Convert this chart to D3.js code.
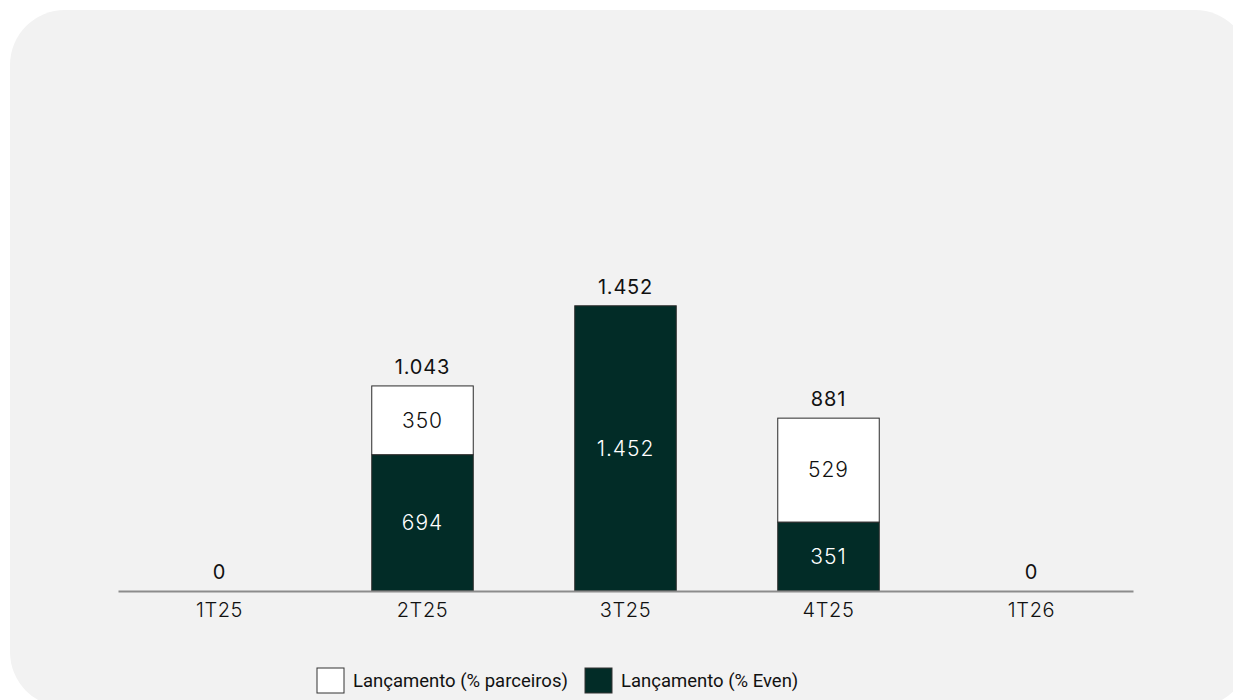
<!DOCTYPE html>
<html>
<head>
<meta charset="utf-8">
<script src="https://cdn.jsdelivr.net/npm/d3@7"></script>
<style>
  body { margin: 0; background: #fff; }
  svg { display: block; }
</style>
</head>
<body>
<svg id="chart" width="1233" height="700"></svg>
<script>
'use strict';

var categories = ['1T25', '2T25', '3T25', '4T25', '1T26'];
var even = [0, 694, 1452, 351, 0];
var parceiros = [0, 350, 0, 529, 0];
var totals = ['0', '1.043', '1.452', '881', '0'];
var evenLabels = ['', '694', '1.452', '351', ''];
var parceirosLabels = ['', '350', '', '529', ''];
var legendLabels = ['Lançamento (% parceiros)', 'Lançamento (% Even)'];

var colDark = '#022c27';
var font = 'Inter, "Open Sans", sans-serif';

var svg = d3.select('#chart');

// panel background
svg.append('rect')
  .attr('x', 10).attr('y', 10)
  .attr('width', 1240).attr('height', 697)
  .attr('rx', 55).attr('ry', 55)
  .attr('fill', '#f2f2f2');

var x = d3.scaleBand()
  .domain(categories)
  .range([118, 1133])
  .paddingInner(0.5)
  .paddingOuter(0.25);

var y = d3.scaleLinear()
  .domain([0, 2800])
  .range([591, 41]);

var data = categories.map(function (c, i) {
  return { cat: c, even: even[i], parc: parceiros[i], total: totals[i],
    evenLabel: evenLabels[i], parcLabel: parceirosLabels[i] };
});

var g = svg.append('g');

// dark segment (Even)
g.selectAll('.bar-even')
  .data(data.filter(function (d) { return d.even > 0; }))
  .enter().append('rect')
  .attr('class', 'bar-even')
  .attr('x', function (d) { return x(d.cat); })
  .attr('width', x.bandwidth())
  .attr('y', function (d) { return y(d.even); })
  .attr('height', function (d) { return y(0) - y(d.even); })
  .attr('fill', colDark)
  .attr('stroke', '#2a2a2a')
  .attr('stroke-width', 1);

// white segment (parceiros)
g.selectAll('.bar-parc')
  .data(data.filter(function (d) { return d.parc > 0; }))
  .enter().append('rect')
  .attr('class', 'bar-parc')
  .attr('x', function (d) { return x(d.cat); })
  .attr('width', x.bandwidth())
  .attr('y', function (d) { return y(d.even + d.parc); })
  .attr('height', function (d) { return y(d.even) - y(d.even + d.parc); })
  .attr('fill', '#fff')
  .attr('stroke', '#2a2a2a')
  .attr('stroke-width', 1);

// inside labels
g.selectAll('.lbl-even')
  .data(data.filter(function (d) { return d.evenLabel; }))
  .enter().append('text')
  .attr('x', function (d) { return x(d.cat) + x.bandwidth() / 2; })
  .attr('y', function (d) { return (y(0) + y(d.even)) / 2; })
  .attr('dy', '0.35em')
  .attr('text-anchor', 'middle')
  .attr('font-family', font)
  .attr('font-size', 21)
  .attr('font-weight', 300)
  .attr('letter-spacing', 1)
  .attr('fill', '#fff')
  .text(function (d) { return d.evenLabel; });

g.selectAll('.lbl-parc')
  .data(data.filter(function (d) { return d.parcLabel; }))
  .enter().append('text')
  .attr('x', function (d) { return x(d.cat) + x.bandwidth() / 2; })
  .attr('y', function (d) { return (y(d.even) + y(d.even + d.parc)) / 2; })
  .attr('dy', '0.35em')
  .attr('text-anchor', 'middle')
  .attr('font-family', font)
  .attr('font-size', 21)
  .attr('font-weight', 300)
  .attr('letter-spacing', 1)
  .attr('fill', '#111')
  .text(function (d) { return d.parcLabel; });

// totals
g.selectAll('.lbl-total')
  .data(data)
  .enter().append('text')
  .attr('x', function (d) { return x(d.cat) + x.bandwidth() / 2; })
  .attr('y', function (d) { return y(d.even + d.parc) - 12; })
  .attr('text-anchor', 'middle')
  .attr('font-family', font)
  .attr('font-size', 20)
  .attr('letter-spacing', 0.8)
  .attr('fill', '#111')
  .text(function (d) { return d.total; });

// x axis
var xAxis = g.append('g')
  .attr('transform', 'translate(0,' + y(0) + ')')
  .call(d3.axisBottom(x).tickSize(0).tickPadding(12));
xAxis.select('.domain')
  .attr('stroke', '#8c8c8c')
  .attr('stroke-width', 2);
xAxis.selectAll('text')
  .attr('font-family', font)
  .attr('font-size', 20)
  .attr('font-weight', 300)
  .attr('letter-spacing', 0.6)
  .attr('fill', '#111');

// legend
var legend = svg.append('g').attr('transform', 'translate(317,668)');
var legendItems = [
  { label: legendLabels[0], fill: '#fff', x: 0 },
  { label: legendLabels[1], fill: colDark, x: 268 }
];
var li = legend.selectAll('g')
  .data(legendItems)
  .enter().append('g')
  .attr('transform', function (d) { return 'translate(' + d.x + ',0)'; });
li.append('rect')
  .attr('width', 27).attr('height', 25)
  .attr('fill', function (d) { return d.fill; })
  .attr('stroke', '#333')
  .attr('stroke-width', 1);
li.append('text')
  .attr('x', 36)
  .attr('y', 13)
  .attr('dy', '0.35em')
  .attr('font-family', 'Roboto, sans-serif')
  .attr('font-size', 18.5)
  .attr('fill', '#111')
  .text(function (d) { return d.label; });
</script>
</body>
</html>
